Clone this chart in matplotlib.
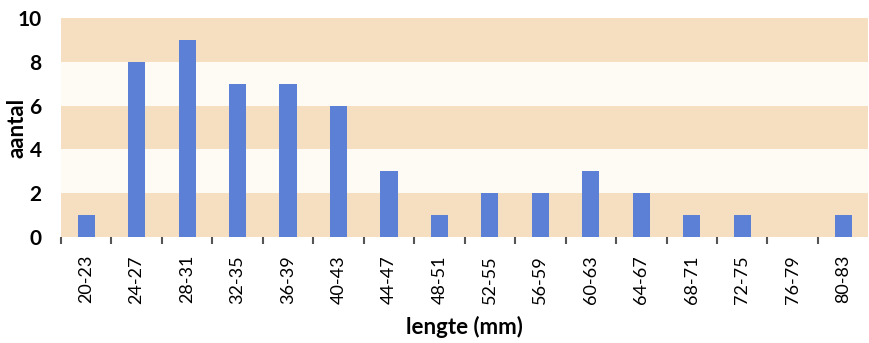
import matplotlib.pyplot as plt
import numpy as np

# lengteklassen en aantallen
klassen = ["20-23", "24-27", "28-31", "32-35", "36-39", "40-43", "44-47", "48-51",
           "52-55", "56-59", "60-63", "64-67", "68-71", "72-75", "76-79", "80-83"]
aantal = [1, 8, 9, 7, 7, 6, 3, 1, 2, 2, 3, 2, 1, 1, 0, 1]
y_ticks = [0, 2, 4, 6, 8, 10]

plt.rcParams['font.family'] = ['Lato', 'DejaVu Sans']

fig = plt.figure(figsize=(8.7, 3.43), dpi=100)
ax = fig.add_axes([0.0701, 0.309, 0.928, 0.6385])

x = np.arange(len(klassen))

# achtergrondbanden
for i in range(0, 10, 2):
    kleur = "#f6dfc0" if (i // 2) % 2 == 0 else "#fefbf5"
    ax.axhspan(i, i + 2, color=kleur, zorder=0, lw=0)

ax.bar(x, aantal, width=0.34, color="#5b80d6", zorder=2)

ax.set_xlim(-0.5, len(klassen) - 0.5)
ax.set_ylim(0, 10)

ax.set_yticks(y_ticks)
ax.set_yticklabels([str(v) for v in y_ticks], fontsize=15, fontweight='bold')
ax.tick_params(axis='y', length=0, pad=14)

ax.set_xticks(x)
ax.set_xticklabels(klassen, rotation=90, fontsize=13)
ax.tick_params(axis='x', which='major', length=0, pad=13)
ax.set_xticks(np.arange(-0.5, len(klassen) - 1, 1), minor=True)
ax.tick_params(axis='x', which='minor', length=5, width=1.5, color="#555555", direction='out')

for s in ax.spines.values():
    s.set_visible(False)

ax.set_ylabel("aantal", fontsize=16, fontweight='bold')
ax.yaxis.set_label_coords(-0.041, 0.5)
ax.set_xlabel("lengte (mm)", fontsize=16, fontweight='bold', labelpad=9)

fig.savefig("out.png", dpi=100, facecolor="white")
